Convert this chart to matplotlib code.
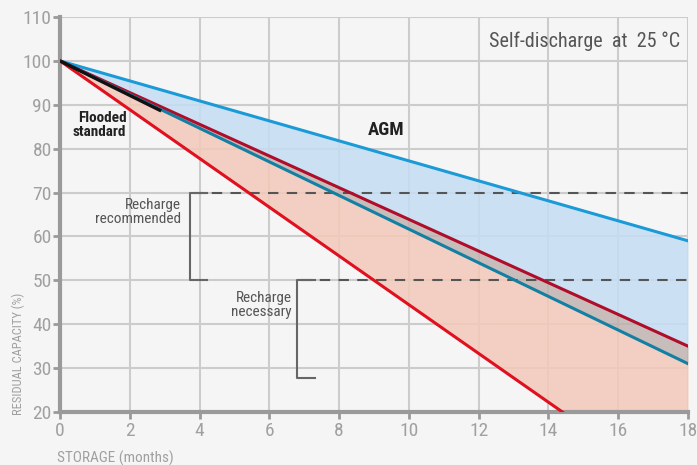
import numpy as np
import matplotlib
matplotlib.use("Agg")
import matplotlib.pyplot as plt

plt.rcParams['font.family'] = ['Roboto Condensed', 'Liberation Sans Narrow', 'DejaVu Sans']
plt.rcParams['font.stretch'] = 'condensed'

# months of storage at the two ends of each line
months = [0, 18]
agm = [100, 59]
flooded_upper = [100, 35]
flooded_lower = [100, 31]
fast_months = [0, 14.4]
fast = [100, 20]
black_months = [0, 2.9]
black = [100, 88.6]

xticks = list(range(0, 19, 2))
yticks = list(range(20, 111, 10))

bg = "#f5f5f5"
fig = plt.figure(figsize=(6.97, 4.65), dpi=100, facecolor=bg)
ax = fig.add_axes([0.0861, 0.114, 0.901, 0.8494], facecolor=bg)

x = np.array(months, dtype=float)
ax.fill_between(x, agm, flooded_upper, color="#c4def3", alpha=0.85, lw=0, zorder=2)
ax.fill_between(x, flooded_upper, flooded_lower, color="#bdb0ad", alpha=0.8, lw=0, zorder=2)
# salmon area between teal line and the fast red line (clipped at 20)
xs = np.linspace(0, 18, 200)
teal_y = np.interp(xs, x, flooded_lower)
slope = (fast[0] - fast[1]) / (fast_months[1] - fast_months[0])
red_y = np.maximum(fast[0] - slope * xs, 20)
ax.fill_between(xs, teal_y, red_y, color="#f2c9b9", alpha=0.85, lw=0, zorder=2)

ax.plot(months, agm, color="#1a9bd7", lw=2.2, zorder=4)
ax.plot(months, flooded_upper, color="#b00d2b", lw=2.2, zorder=4)
ax.plot(months, flooded_lower, color="#127fa3", lw=2.2, zorder=4)
ax.plot(fast_months, fast, color="#e0101f", lw=2.2, zorder=4)
ax.plot(black_months, black, color="#111111", lw=2.4, zorder=5, solid_capstyle="butt")

# threshold lines
ax.plot([3.8, 18], [70, 70], color="#555555", lw=1.5, ls=(0, (5, 4)), zorder=3)
ax.plot([6.9, 18], [50, 50], color="#555555", lw=1.5, ls=(0, (5, 4)), zorder=3)
# brackets
ax.plot([4.2, 3.72, 3.72, 4.2], [70, 70, 50, 50], color="#666666", lw=1.5, zorder=3)
ax.plot([7.3, 6.8, 6.8, 7.3], [50, 50, 27.7, 27.7], color="#666666", lw=1.5, zorder=3)

ax.text(1.9, 85.5, "Flooded\nstandard", ha="right", va="center", fontsize=11,
        fontweight="bold", color="#222222", linespacing=1.0, zorder=6)
ax.text(9.35, 84.2, "AGM", ha="center", va="center", fontsize=13.5,
        fontweight="bold", color="#222222", zorder=6)
ax.text(3.46, 65.5, "Recharge\nrecommended", ha="right", va="center", fontsize=11,
        color="#555555", linespacing=1.0, zorder=6)
ax.text(6.65, 44.3, "Recharge\nnecessary", ha="right", va="center", fontsize=11,
        color="#555555", linespacing=1.0, zorder=6)
ax.text(17.78, 104.5, "Self-discharge  at  25 °C", ha="right", va="center",
        fontsize=14.5, color="#555555", zorder=6)

ax.set_xlim(0, 18)
ax.set_ylim(20, 110)
ax.set_xticks(xticks)
ax.set_yticks(yticks)
ax.grid(True, color="#cccccc", lw=1.5, zorder=1)
ax.set_axisbelow(True)
for s in ["top", "right"]:
    ax.spines[s].set_visible(False)
for s in ["left", "bottom"]:
    ax.spines[s].set_color("#9a9a9a")
    ax.spines[s].set_linewidth(3)
ax.tick_params(colors="#9a9a9a", labelsize=14, width=2, length=5, pad=2)
ax.tick_params(axis="y", pad=1)
for lab in ax.get_xticklabels() + ax.get_yticklabels():
    lab.set_color("#a0a0a0")

fig.text(0.026, 0.24, "RESIDUAL CAPACITY (%)", rotation=90, ha="center", va="center",
         fontsize=9, color="#a0a0a0")
fig.text(0.082, 0.015, "STORAGE (months)", ha="left", va="center",
         fontsize=11, color="#a0a0a0")

fig.savefig("out.png", dpi=100, facecolor=bg)
